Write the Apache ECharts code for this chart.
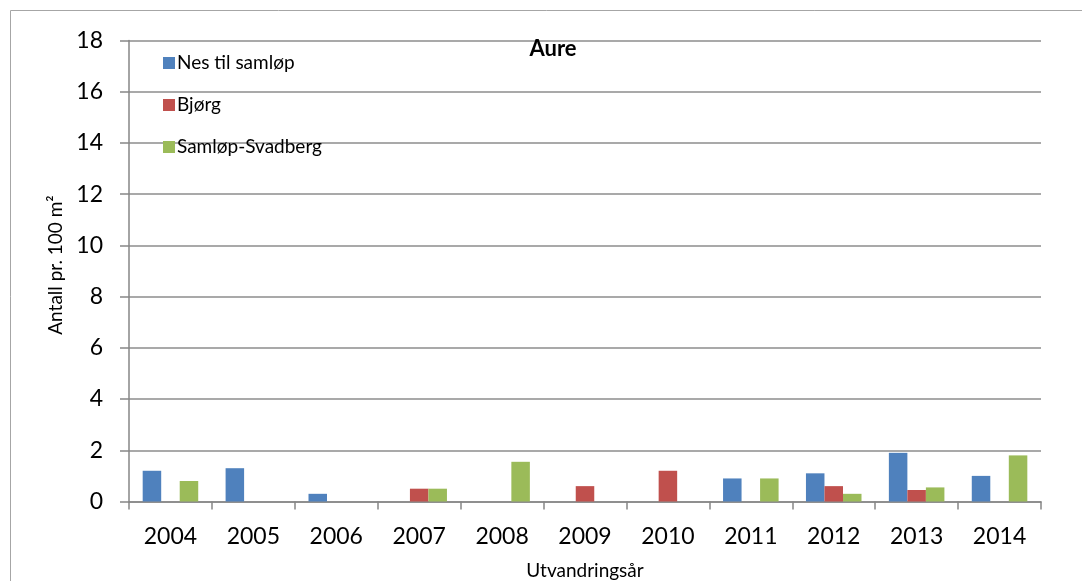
<!DOCTYPE html>
<html>
<head>
<meta charset="utf-8">
<script src="https://cdn.jsdelivr.net/npm/echarts@6/dist/echarts.min.js"></script>
<style>
html,body{margin:0;padding:0;background:#fff;}
#c{width:1082px;height:581px;}
</style>
</head>
<body>
<div id="c"></div>
<script>
const years = ['2004','2005','2006','2007','2008','2009','2010','2011','2012','2013','2014'];
const nesTilSamlop = [1.2, 1.3, 0.3, 0, 0, 0, 0, 0.9, 1.1, 1.9, 1.0];
const bjorg = [0, 0, 0, 0.5, 0, 0.6, 1.2, 0, 0.6, 0.45, 0];
const samlopSvadberg = [0.8, 0, 0, 0.5, 1.55, 0, 0, 0.9, 0.3, 0.55, 1.8];
const seriesNames = ['Nes til samløp', 'Bjørg', 'Samløp-Svadberg'];
const yTicks = {min: 0, max: 18, interval: 2};

const FONT = 'Lato, "Open Sans", sans-serif';
const chart = echarts.init(document.getElementById('c'));
const mk = (name, data, color) => ({
  name, type: 'bar', data, barGap: '0%', barCategoryGap: '33%',
  itemStyle: {color},
  emphasis: {disabled: true}
});
chart.setOption({
  animation: false,
  textStyle: {fontFamily: FONT},
  graphic: [{
    type: 'rect', shape: {x: 10.5, y: 10.5, width: 1100, height: 600},
    style: {fill: 'none', stroke: '#a6a6a6', lineWidth: 1}, silent: true
  }],
  title: {
    text: 'Aure', left: 548, top: 31, textAlign: 'center',
    textStyle: {fontFamily: FONT, fontSize: 22, fontWeight: 'bold', color: '#000', lineHeight: 26}
  },
  legend: {
    orient: 'vertical', left: 158, top: 48, itemWidth: 12, itemHeight: 12, itemGap: 22,
    icon: 'rect', selectedMode: false,
    textStyle: {fontFamily: FONT, fontSize: 19, color: '#000', lineHeight: 20, padding: [0,0,0,-3]},
    data: seriesNames
  },
  grid: {left: 129, right: 41, top: 40.5, bottom: 79.5, containLabel: false, outerBoundsMode: 'none'},
  xAxis: {
    type: 'category', data: years,
    name: 'Utvandringsår', nameLocation: 'middle', nameGap: 60,
    nameTextStyle: {fontFamily: FONT, fontSize: 19, color: '#000'},
    axisLine: {lineStyle: {color: '#868686', width: 1.5}},
    axisTick: {show: true, length: 8, lineStyle: {color: '#868686', width: 1.5}},
    axisLabel: {fontFamily: FONT, fontSize: 23, color: '#000', margin: 24}
  },
  yAxis: {
    type: 'value', min: yTicks.min, max: yTicks.max, interval: yTicks.interval,
    name: 'Antall pr. 100 m²', nameLocation: 'middle', nameGap: 62,
    nameTextStyle: {fontFamily: FONT, fontSize: 19, color: '#000', padding: [0, 0, 0, 12]},
    axisLine: {show: true, lineStyle: {color: '#868686', width: 1.5}},
    axisTick: {show: true, length: 9, lineStyle: {color: '#868686', width: 1.5}},
    axisLabel: {fontFamily: FONT, fontSize: 23, color: '#000', margin: 26},
    splitLine: {show: true, lineStyle: {color: '#8c8c8c', width: 1.5}}
  },
  series: [
    mk(seriesNames[0], nesTilSamlop, '#4F81BD'),
    mk(seriesNames[1], bjorg, '#C0504D'),
    mk(seriesNames[2], samlopSvadberg, '#9BBB59')
  ]
});
</script>
</body>
</html>
